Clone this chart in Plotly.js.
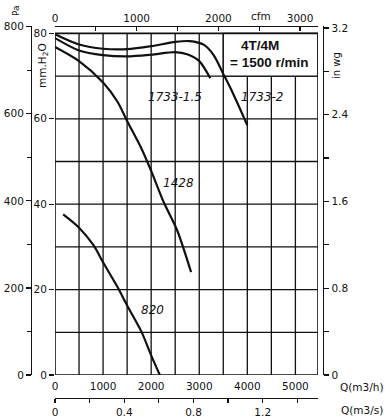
<!DOCTYPE html>
<html>
<head>
<meta charset="utf-8">
<script src="https://cdn.plot.ly/plotly-3.0.1.min.js"></script>
<style>html,body{margin:0;padding:0;background:#fff}#chart{width:390px;height:420px}</style>
</head>
<body>
<div id="chart"></div>
<script>
// Fan curves: flow Q (m3/h) vs pressure (mm H2O)
const curve1733_2_q = [0, 500, 1000, 1500, 2000, 2500, 2800, 3100, 3300, 3500, 3700, 4000];
const curve1733_2_p = [79.8, 77.4, 76.4, 76.3, 77.0, 78.0, 78.2, 77.3, 74.9, 70.5, 66.0, 58.5];

const curve1733_15_q = [0, 500, 1000, 1500, 2000, 2500, 2750, 3000, 3230];
const curve1733_15_p = [78.9, 76.0, 74.9, 74.6, 75.0, 75.6, 75.1, 73.5, 69.5];

const curve1428_q = [0, 500, 1000, 1300, 1500, 1800, 2000, 2260, 2540, 2830];
const curve1428_p = [76.8, 73.5, 68.5, 64.0, 59.5, 53.0, 47.8, 40.5, 33.9, 24.1];

const curve820_q = [170, 500, 800, 1000, 1300, 1500, 1800, 2000, 2180];
const curve820_p = [37.6, 34.5, 30.4, 26.4, 20.6, 16.3, 10.1, 4.6, 0];

const curveNames = ["1733-2", "1733-1.5", "1428", "820"];
const boxLines = ["4T/4M", "= 1500 r/min"];

const Q_MAX = 5470;        // m3/h at right edge
const MM_TOP = 81.73;      // mm H2O at top of axis area
const BOX_MM = 80;

const F = "DejaVu Sans, sans-serif";
const ink = "#111";

// geometry helpers (pixel -> paper)
const L = 31, R = 67, T = 26, B = 22, W = 390, H = 420;
const PW = W - L - R, PH = H - T - B;
const px = v => (v - L) / PW;
const py = v => (H - B - v) / PH;

const line = {color: ink, width: 2.2, shape: 'spline', smoothing: 0.8};
const traces = [
  {x: curve1733_2_q, y: curve1733_2_p, mode: 'lines', line: line, hoverinfo: 'skip', showlegend: false},
  {x: curve1733_15_q, y: curve1733_15_p, mode: 'lines', line: line, hoverinfo: 'skip', showlegend: false},
  {x: curve1428_q, y: curve1428_p, mode: 'lines', line: line, hoverinfo: 'skip', showlegend: false},
  {x: curve820_q, y: curve820_p, mode: 'lines', line: line, hoverinfo: 'skip', showlegend: false},
  // empty traces so the secondary unit axes are drawn
  {x: [null], y: [null], xaxis: 'x2', yaxis: 'y', mode: 'lines', hoverinfo: 'skip', showlegend: false},
  {x: [null], y: [null], xaxis: 'x3', yaxis: 'y', mode: 'lines', hoverinfo: 'skip', showlegend: false},
  {x: [null], y: [null], xaxis: 'x', yaxis: 'y2', mode: 'lines', hoverinfo: 'skip', showlegend: false},
  {x: [null], y: [null], xaxis: 'x', yaxis: 'y3', mode: 'lines', hoverinfo: 'skip', showlegend: false}
];

const shapes = [];
const gl = {color: ink, width: 1.3};
for (let q = 500; q < Q_MAX; q += 500) {
  shapes.push({type: 'line', layer: 'below', xref: 'x', yref: 'y', x0: q, x1: q, y0: 0, y1: BOX_MM, line: gl});
}
for (let m = 10; m < BOX_MM; m += 10) {
  shapes.push({type: 'line', layer: 'below', xref: 'x', yref: 'y', x0: 0, x1: Q_MAX, y0: m, y1: m, line: gl});
}
// white label box
shapes.push({type: 'rect', layer: 'below', xref: 'x', yref: 'y', x0: 3500, x1: Q_MAX, y0: 70, y1: BOX_MM,
  fillcolor: '#fff', line: {color: ink, width: 1.3}});
// plot frame
shapes.push({type: 'rect', layer: 'below', xref: 'x', yref: 'y', x0: 0, x1: Q_MAX, y0: 0, y1: BOX_MM,
  fillcolor: 'rgba(0,0,0,0)', line: {color: ink, width: 1.6}});

const tf = {family: F, size: 10.5, color: ink};
const ann = (text, x, y, opts) => Object.assign({text: text, x: px(x), y: py(y), xref: 'paper', yref: 'paper',
  showarrow: false, font: {family: F, size: 10.5, color: ink}, xanchor: 'center', yanchor: 'middle'}, opts || {});
const dann = (text, x, y, opts) => Object.assign({text: text, x: x, y: y, xref: 'x', yref: 'y',
  showarrow: false, font: {family: F, size: 12, color: ink}, xanchor: 'center', yanchor: 'middle'}, opts || {});

const annotations = [
  ann("Pa", 16, 11, {textangle: -90, font: {family: F, size: 9, color: ink}}),
  ann("mm.H<sub>2</sub>O", 43, 66, {textangle: -90, font: {family: F, size: 10.5, color: ink}}),
  ann("in wg", 336, 66, {textangle: -90, font: {family: F, size: 10, color: ink}}),
  ann("cfm", 261, 16),
  ann("Q(m3/h)", 362, 386.5),
  ann("Q(m3/s)", 362, 409.5),
  ann("<b>" + boxLines[0] + "</b>", 260, 46, {font: {family: "Liberation Sans, Arial, sans-serif", size: 13.5, color: ink}}),
  ann("<b>" + boxLines[1] + "</b>", 268.5, 62.5, {font: {family: "Liberation Sans, Arial, sans-serif", size: 13.5, color: ink}}),
  dann("<i>" + curveNames[1] + "</i>", 2503, 65.0),
  dann("<i>" + curveNames[0] + "</i>", 4318, 65.0),
  dann("<i>" + curveNames[2] + "</i>", 2566, 44.9),
  dann("<i>" + curveNames[3] + "</i>", 2034, 15.2)
];

const layout = {
  width: W, height: H,
  margin: {l: L, r: R, t: T, b: B, pad: 0},
  paper_bgcolor: '#fff', plot_bgcolor: '#fff',
  showlegend: false,
  font: {family: F, size: 10.5, color: ink},
  xaxis: {
    domain: [px(55), px(318)], range: [0, Q_MAX], anchor: 'y',
    showgrid: false, zeroline: false, showline: false,
    tickvals: [0, 1000, 2000, 3000, 4000, 5000], ticks: '', ticklabelstandoff: 3, tickfont: tf, fixedrange: true
  },
  xaxis2: {
    overlaying: 'x', anchor: 'free', position: 1, side: 'top',
    range: [0, Q_MAX / 1.699], showgrid: false, zeroline: false,
    showline: true, linecolor: ink, linewidth: 1.3,
    dtick: 1000, ticks: 'inside', ticklen: 4, tickcolor: ink, tickwidth: 1.2,
    minor: {dtick: 500, ticks: 'inside', ticklen: 4, tickcolor: ink, tickwidth: 1.2, showgrid: false},
    tickfont: tf, fixedrange: true
  },
  xaxis3: {
    overlaying: 'x', anchor: 'free', position: 0, side: 'bottom',
    range: [0, Q_MAX / 3600], showgrid: false, zeroline: false,
    showline: true, linecolor: ink, linewidth: 1.3,
    dtick: 0.4, ticks: 'outside', ticklen: 4, tickcolor: ink, tickwidth: 1.2,
    minor: {dtick: 0.2, ticks: 'outside', ticklen: 4, tickcolor: ink, tickwidth: 1.2, showgrid: false},
    tickfont: tf, fixedrange: true
  },
  yaxis: {
    domain: [py(375), 1], range: [0, MM_TOP], anchor: 'x',
    showgrid: false, zeroline: false, showline: false,
    tickvals: [0, 20, 40, 60, 80], ticks: 'outside', ticklen: 5, tickcolor: ink, tickwidth: 1.2,
    tickfont: tf, fixedrange: true
  },
  yaxis2: {
    overlaying: 'y', anchor: 'free', position: 0, side: 'left',
    range: [0, MM_TOP * 9.80665], showgrid: false, zeroline: false,
    showline: true, linecolor: ink, linewidth: 1.3,
    dtick: 200, ticks: 'outside', ticklen: 5, tickcolor: ink, tickwidth: 1.2,
    minor: {dtick: 100, ticks: 'outside', ticklen: 4, tickcolor: ink, tickwidth: 1.2, showgrid: false},
    tickfont: tf, fixedrange: true
  },
  yaxis3: {
    overlaying: 'y', anchor: 'free', position: 1, side: 'right',
    range: [0, MM_TOP / 25.4], showgrid: false, zeroline: false,
    showline: true, linecolor: ink, linewidth: 1.3,
    dtick: 0.8, ticks: 'outside', ticklen: 5, tickcolor: ink, tickwidth: 1.2,
    minor: {dtick: 0.4, ticks: 'outside', ticklen: 5, tickcolor: ink, tickwidth: 1.2, showgrid: false},
    tickfont: tf, fixedrange: true
  },
  shapes: shapes,
  annotations: annotations
};

Plotly.newPlot('chart', traces, layout, {displayModeBar: false, staticPlot: true});
</script>
</body>
</html>
